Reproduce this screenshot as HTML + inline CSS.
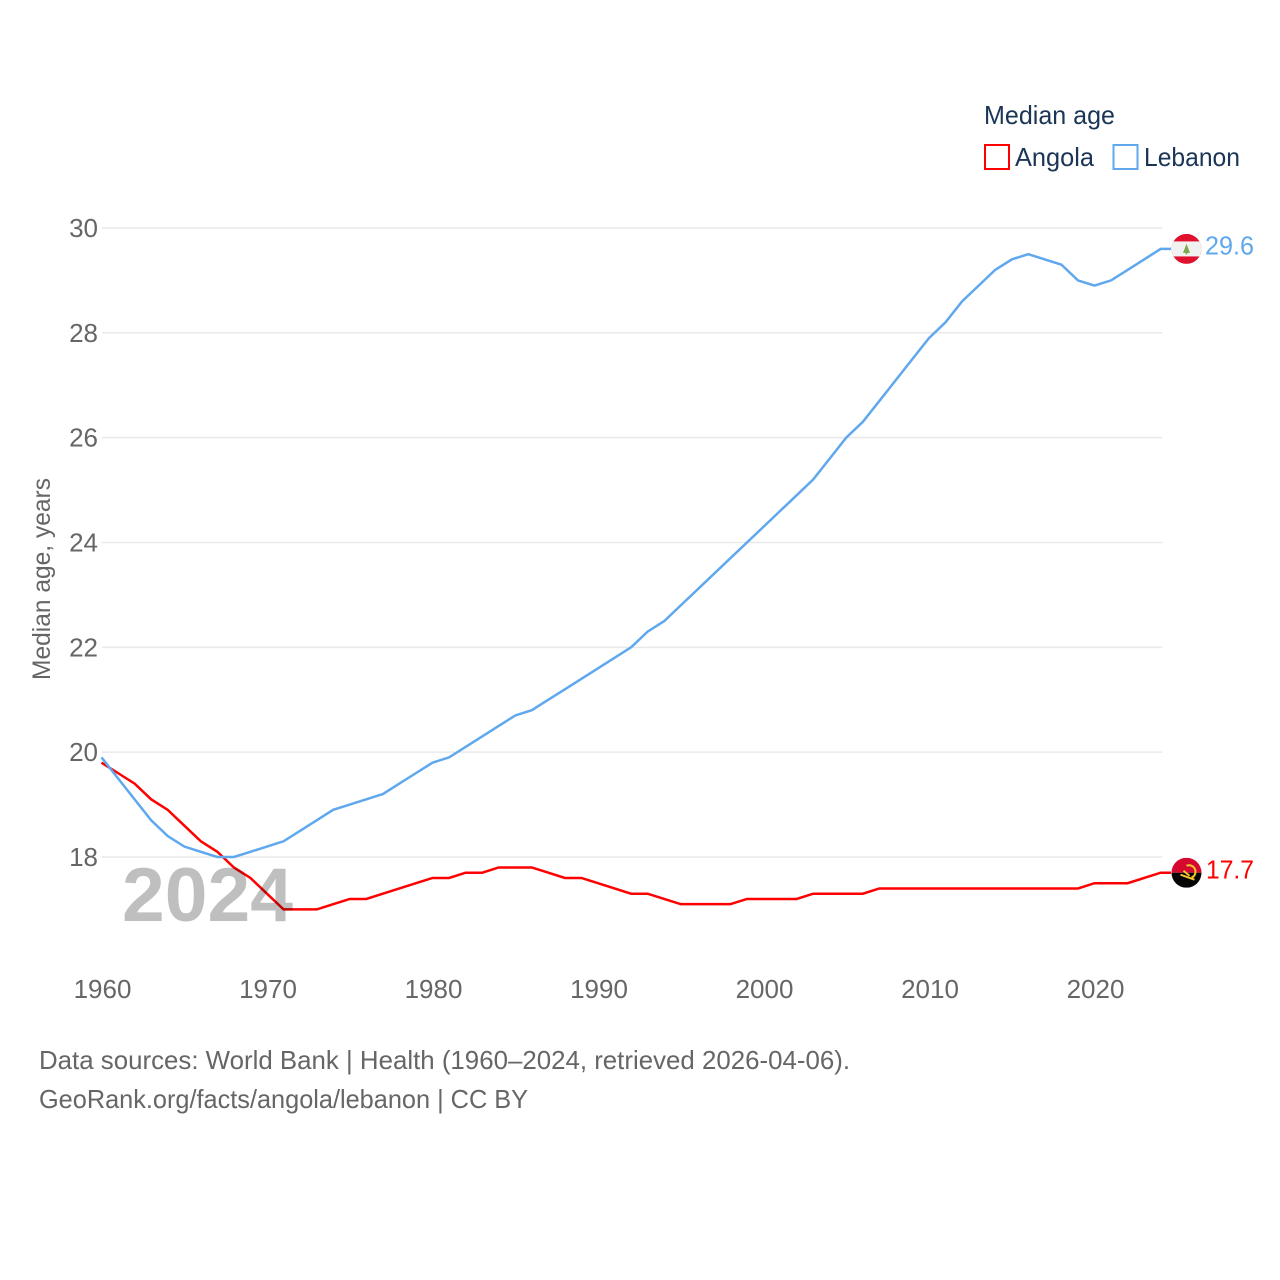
<!DOCTYPE html>
<html lang="en">
<head>
<meta charset="utf-8">
<title>Median age: Angola and Lebanon</title>
<style>
html,body{margin:0;padding:0;background:#fff;}
svg{display:block;}
text{font-family:"Liberation Sans",sans-serif;}
</style>
</head>
<body>
<svg id="chart" xmlns="http://www.w3.org/2000/svg" width="1280" height="1280" viewBox="0 0 1280 1280">
  <defs>
    <clipPath id="clip-lebanon"><circle cx="0" cy="0" r="15"/></clipPath>
    <clipPath id="clip-angola"><circle cx="0" cy="0" r="15"/></clipPath>
  </defs>
  <g id="grid"></g>
  <g id="yticks"></g>
  <g id="xticks"></g>
  <g id="series"></g>

  <text x="122" y="921" font-size="76" font-weight="700" fill="#000" fill-opacity="0.25" textLength="171" lengthAdjust="spacingAndGlyphs">2024</text>

  <text transform="translate(50,680) rotate(-90)" font-size="25" fill="#666" textLength="202" lengthAdjust="spacingAndGlyphs">Median age, years</text>

  <g>
    <text x="984" y="124" font-size="26" fill="#1b3556" textLength="131" lengthAdjust="spacingAndGlyphs">Median age</text>
    <g>
      <rect x="985" y="145" width="24" height="24" fill="#fff" stroke="#ff0000" stroke-width="2"/>
      <text x="1015" y="166" font-size="26" fill="#1b3556" textLength="79" lengthAdjust="spacingAndGlyphs">Angola</text>
    </g>
    <g>
      <rect x="1113.5" y="145" width="24" height="24" fill="#fff" stroke="#5fa8ee" stroke-width="2"/>
      <text x="1144" y="166" font-size="26" fill="#1b3556" textLength="96" lengthAdjust="spacingAndGlyphs">Lebanon</text>
    </g>
  </g>

  <g id="flag-lebanon">
    <g clip-path="url(#clip-lebanon)">
      <rect x="-15" y="-15" width="30" height="30" fill="#e0102f"/>
      <rect x="-15" y="-7.5" width="30" height="15" fill="#f1f1f1"/>
      <path d="M0 -5 L3.5 4 L0.8 4 L0.8 5.5 L-0.8 5.5 L-0.8 4 L-3.5 4 Z" fill="#7ba84a"/>
    </g>
  </g>
  <g id="flag-angola">
    <g clip-path="url(#clip-angola)">
      <rect x="-15" y="-15" width="30" height="15" fill="#d5092f"/>
      <rect x="-15" y="0" width="30" height="15" fill="#050505"/>
      <path d="M0 -7 A6.5 6.5 0 0 1 5 5 M-6 2 L8 7 M-3 -2 L3 3" fill="none" stroke="#f4c52c" stroke-width="2"/>
    </g>
  </g>
  <text id="value-lebanon" x="1205" font-size="26" fill="#5fa8ee" textLength="49" lengthAdjust="spacingAndGlyphs"></text>
  <text id="value-angola" x="1206" font-size="26" fill="#ff0000" textLength="48" lengthAdjust="spacingAndGlyphs"></text>

  <text x="39" y="1069" font-size="26" fill="#666" textLength="811" lengthAdjust="spacingAndGlyphs">Data sources: World Bank | Health (1960–2024, retrieved 2026-04-06).</text>
  <text x="39" y="1108" font-size="26" fill="#666" textLength="489" lengthAdjust="spacingAndGlyphs">GeoRank.org/facts/angola/lebanon | CC BY</text>
</svg>
<script>
const startYear = 1960;
const xTickYears = [1960, 1970, 1980, 1990, 2000, 2010, 2020];
const yTickValues = [18, 20, 22, 24, 26, 28, 30];
const lebanonValues = [19.9,19.5,19.1,18.7,18.4,18.2,18.1,18.0,18.0,18.1,18.2,18.3,18.5,18.7,18.9,19.0,19.1,19.2,19.4,19.6,19.8,19.9,20.1,20.3,20.5,20.7,20.8,21.0,21.2,21.4,21.6,21.8,22.0,22.3,22.5,22.8,23.1,23.4,23.7,24.0,24.3,24.6,24.9,25.2,25.6,26.0,26.3,26.7,27.1,27.5,27.9,28.2,28.6,28.9,29.2,29.4,29.5,29.4,29.3,29.0,28.9,29.0,29.2,29.4,29.6];
const angolaValues = [19.8,19.6,19.4,19.1,18.9,18.6,18.3,18.1,17.8,17.6,17.3,17.0,17.0,17.0,17.1,17.2,17.2,17.3,17.4,17.5,17.6,17.6,17.7,17.7,17.8,17.8,17.8,17.7,17.6,17.6,17.5,17.4,17.3,17.3,17.2,17.1,17.1,17.1,17.1,17.2,17.2,17.2,17.2,17.3,17.3,17.3,17.3,17.4,17.4,17.4,17.4,17.4,17.4,17.4,17.4,17.4,17.4,17.4,17.4,17.4,17.5,17.5,17.5,17.6,17.7];

const NS = 'http://www.w3.org/2000/svg';
const xScale = function (year) { return 101.5 + (year - 1960) * 16.55; };
const yScale = function (value) { return 857 - (value - 18) * 52.42; };

const grid = document.getElementById('grid');
const yticks = document.getElementById('yticks');
const xticks = document.getElementById('xticks');
const seriesGroup = document.getElementById('series');

yTickValues.forEach(function (v) {
  const line = document.createElementNS(NS, 'line');
  
  
  line.setAttribute('x1', 102);
  line.setAttribute('x2', 1162);
  line.setAttribute('y1', yScale(v));
  line.setAttribute('y2', yScale(v));
  line.setAttribute('stroke', '#e9e9e9');
  line.setAttribute('stroke-width', '1.5');
  grid.appendChild(line);

  const label = document.createElementNS(NS, 'text');
  
  
  label.setAttribute('x', 98);
  label.setAttribute('y', yScale(v) + 9);
  label.setAttribute('text-anchor', 'end');
  label.setAttribute('font-size', '26');
  label.setAttribute('fill', '#666');
  label.textContent = v;
  yticks.appendChild(label);
});

xTickYears.forEach(function (y) {
  const label = document.createElementNS(NS, 'text');
  
  
  label.setAttribute('x', xScale(y) + 1);
  label.setAttribute('y', 998);
  label.setAttribute('text-anchor', 'middle');
  label.setAttribute('font-size', '26');
  label.setAttribute('fill', '#666');
  label.textContent = y;
  xticks.appendChild(label);
});

function linePath(values) {
  let d = values.map(function (v, i) {
    return (i ? 'L' : 'M') + xScale(startYear + i).toFixed(2) + ' ' + yScale(v).toFixed(2);
  }).join(' ');
  d += ' L1171 ' + yScale(values[values.length - 1]).toFixed(2);
  return d;
}

const angolaLine = document.createElementNS(NS, 'path');


angolaLine.setAttribute('d', linePath(angolaValues));
angolaLine.setAttribute('fill', 'none');
angolaLine.setAttribute('stroke', '#ff0000');
angolaLine.setAttribute('stroke-width', '2.5');
seriesGroup.appendChild(angolaLine);

const lebanonLine = document.createElementNS(NS, 'path');


lebanonLine.setAttribute('d', linePath(lebanonValues));
lebanonLine.setAttribute('fill', 'none');
lebanonLine.setAttribute('stroke', '#5fa8ee');
lebanonLine.setAttribute('stroke-width', '2.5');
seriesGroup.appendChild(lebanonLine);

const lastLebanon = lebanonValues[lebanonValues.length - 1];
const lastAngola = angolaValues[angolaValues.length - 1];
document.getElementById('flag-lebanon').setAttribute('transform', 'translate(1186.5,' + yScale(lastLebanon).toFixed(2) + ')');
document.getElementById('flag-angola').setAttribute('transform', 'translate(1186.5,' + yScale(lastAngola).toFixed(2) + ')');
const valueLebanon = document.getElementById('value-lebanon');
valueLebanon.setAttribute('y', yScale(lastLebanon) + 5.5);
valueLebanon.textContent = lastLebanon.toFixed(1);
const valueAngola = document.getElementById('value-angola');
valueAngola.setAttribute('y', yScale(lastAngola) + 6);
valueAngola.textContent = lastAngola.toFixed(1);
</script>
</body>
</html>
